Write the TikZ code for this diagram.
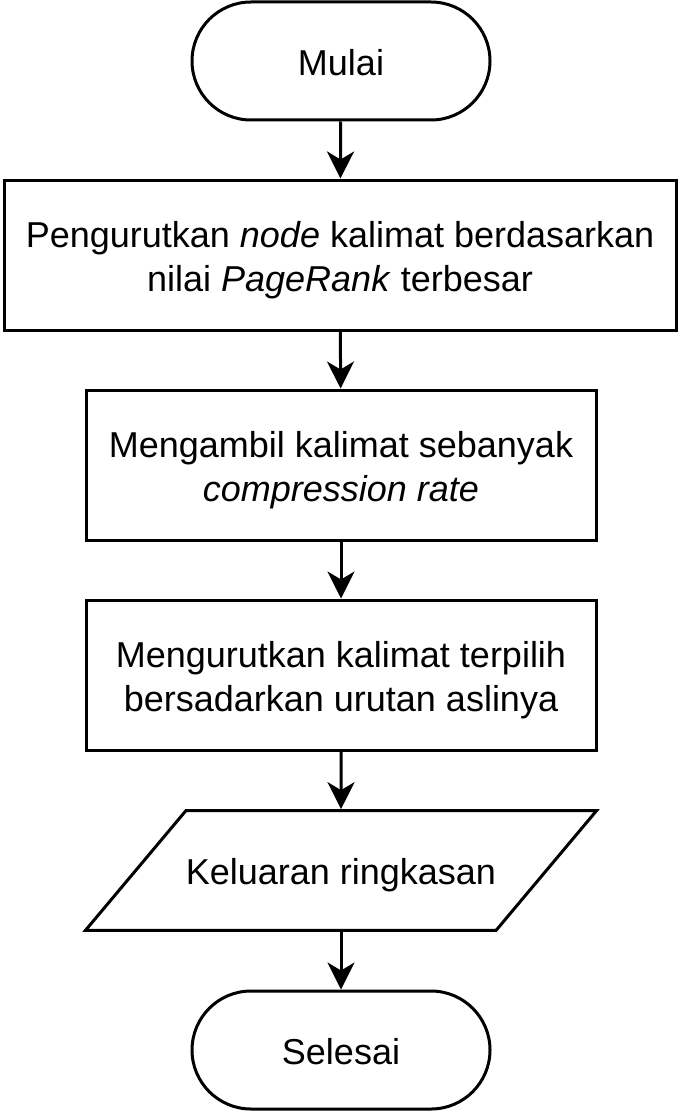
\documentclass[tikz,border=0pt]{standalone}
\usepackage{fontspec}
\setmainfont{Liberation Sans}
\usetikzlibrary{arrows.meta,shapes.geometric,positioning}

% one text line, as tall as the line spacing
\newcommand{\fstrut}{\rule[-7pt]{0pt}{43.2pt}}

\begin{document}
\begin{tikzpicture}[
        x=1pt, y=1pt,
        every node/.style={
                draw=black,
                line width=3pt,
                font=\fontsize{36}{43.2}\selectfont,
                align=center,
                inner sep=0pt
            },
        terminal/.style={
                rectangle,
                rounded corners=59pt,
                minimum width=298pt,
                minimum height=118pt
            },
        process box/.style={
                rectangle,
                minimum width=510pt,
                minimum height=150pt
            },
        io box/.style={
                trapezium,
                trapezium left angle=50,
                trapezium right angle=130,
                trapezium stretches body=true,
                inner ysep=38pt,
                inner xsep=0pt,
                minimum width=510pt
            },
        flow line/.style={
                draw=black,
                line width=3pt,
                -{Stealth[length=27pt,width=27pt,inset=8pt]}
            }
    ]

    \useasboundingbox (0,0) rectangle (678,-1113);

    % Start and end
    \node[terminal] (start) at (341,-61) {\fstrut Mulai};
    \node[terminal] (stop) at (341,-1050) {\fstrut Selesai};

    % Process steps
    \node[process box, minimum width=672pt] (sort) at (340,-255)
        {\fstrut Pengurutkan \textit{node} kalimat berdasarkan\\\fstrut nilai \textit{PageRank} terbesar};
    \node[process box] (take) at (341,-465)
        {\fstrut Mengambil kalimat sebanyak\\\fstrut\textit{compression rate}};
    \node[process box] (order) at (341,-675)
        {\fstrut Mengurutkan kalimat terpilih\\\fstrut bersadarkan urutan aslinya};

    % Output
    \node[io box] (output) at (341,-870.5) {\fstrut Keluaran ringkasan};

    % Connections
    \foreach \a/\b in {start/sort, sort/take, take/order, order/output, output/stop} {
            \draw[flow line] (\a) -- (\b);
        }

\end{tikzpicture}
\end{document}
